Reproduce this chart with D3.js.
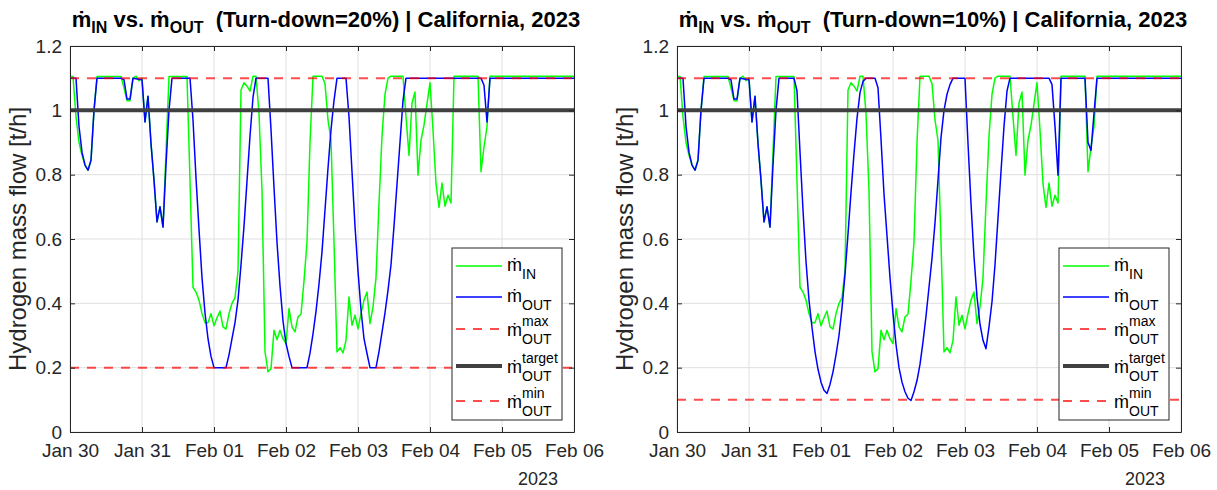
<!DOCTYPE html>
<html>
<head>
<meta charset="utf-8">
<script src="https://cdnjs.cloudflare.com/ajax/libs/d3/7.8.5/d3.min.js"></script>
<style>
  body { margin: 0; background: #fff; }
  svg { font-family: "Liberation Sans", Arial, "DejaVu Sans", sans-serif; }
</style>
</head>
<body>
<svg width="1217" height="490"></svg>
<script>
// hours after Jan 30 2023 00:00, value in t/h
const greenIn = [[0,1.105],[1,1.105],[2,0.98],[3,0.9],[4,0.86],[5,0.83],[6,0.814],[7,0.845],[8,1.0],[9,1.105],
  [17,1.105],[18,1.07],[19,1.03],[20,1.03],[21,1.1],[22,1.106],[23,1.092],[24,1.1],
  [25,0.964],[26,1.044],[27,0.897],[28,0.783],[29,0.653],[30,0.70],[31,0.637],[32,0.87],[33,1.105],
  [39,1.105],[40,0.78],[41,0.45],[42,0.435],[43,0.41],[44,0.368],[45,0.34],[46,0.34],[47,0.368],[48,0.33],
  [49,0.355],[50,0.376],[51,0.327],[52,0.32],[53,0.368],[54,0.40],[55,0.418],[56,0.5],[57,1.063],[58,1.086],
  [59,1.075],[60,1.06],[61,1.106],[62,1.106],[63,0.99],[64,0.75],[65,0.25],[66,0.187],[67,0.197],[68,0.316],
  [69,0.287],[70,0.316],[71,0.29],[72,0.275],[73,0.384],[74,0.327],[75,0.311],[76,0.358],[77,0.366],[78,0.47],
  [79,0.59],[80,0.9],[81,1.106],[84,1.106],[85,1.083],[86,0.97],[87,0.907],[88,0.59],[89,0.249],[90,0.262],
  [91,0.246],[92,0.285],[93,0.42],[94,0.332],[95,0.363],[96,0.321],[97,0.368],[98,0.41],[99,0.435],[100,0.337],
  [101,0.389],[102,0.48],[103,0.71],[104,0.92],[105,1.05],[106,1.1],[107,1.106],[111,1.106],[112,0.98],[113,0.86],
  [114,1.023],[115,1.057],[116,0.798],[117,0.907],[118,0.954],[119,1.02],[120,1.086],[121,0.938],[122,0.772],
  [123,0.698],[124,0.774],[125,0.702],[126,0.736],[127,0.712],[128,1.106],[136,1.106],[137,0.809],[138,0.886],
  [139,0.949],[140,1.106],[168,1.106]];

const blueCommon = [[0,1.1],[2,1.1],[3,0.95],[4,0.87],[5,0.83],[6,0.814],[7,0.845],[8,1.0],[9,1.1],[17,1.1],
  [18,1.095],[19,1.035],[20,1.035],[21,1.1],[24,1.095],[25,0.964],[26,1.044],[27,0.897],[28,0.783],[29,0.653],
  [30,0.70],[31,0.637],[32,0.83],[33,1.0],[34,1.1],[39,1.1]];

const blueTail20 = [[40,1.1],[41,0.97],[42,0.79],[43,0.63],[44,0.48],[45,0.37],[46,0.29],[47,0.235],[48,0.2],
  [52,0.2],[53,0.24],[54,0.29],[55,0.34],[56,0.41],[57,0.52],[58,0.64],[59,0.78],[60,0.92],[61,1.04],[62,1.1],
  [66,1.1],[67,0.94],[68,0.76],[69,0.59],[70,0.455],[71,0.345],[72,0.275],[73,0.235],[74,0.2],[79,0.2],
  [80,0.245],[81,0.305],[82,0.375],[83,0.46],[84,0.56],[85,0.69],[86,0.82],[87,0.94],[88,1.03],[89,1.1],
  [92,1.1],[93,0.98],[94,0.81],[95,0.64],[96,0.5],[97,0.38],[98,0.29],[99,0.244],[100,0.2],[102,0.2],
  [103,0.25],[104,0.31],[105,0.37],[106,0.44],[107,0.52],[108,0.64],[109,0.77],[110,0.9],[111,1.03],[112,1.1],
  [137,1.1],[138,1.078],[139,0.964],[140,1.1],[168,1.1]];

const blueTail10 = [[40,1.06],[41,0.87],[42,0.69],[43,0.53],[44,0.41],[45,0.325],[46,0.25],[47,0.195],[48,0.155],
  [49,0.13],[50,0.12],[51,0.148],[52,0.187],[53,0.24],[54,0.30],[55,0.385],[56,0.49],[57,0.615],[58,0.745],
  [59,0.865],[60,0.975],[61,1.055],[62,1.09],[63,1.1],[66,1.1],[67,1.07],[68,0.91],[69,0.74],[70,0.61],[71,0.48],
  [72,0.368],[73,0.272],[74,0.2],[75,0.155],[76,0.125],[77,0.105],[78,0.098],[79,0.125],[80,0.16],[81,0.21],
  [82,0.28],[83,0.36],[84,0.45],[85,0.54],[86,0.65],[87,0.783],[88,0.915],[89,1.0],[90,1.05],[91,1.08],[92,1.1],
  [96,1.1],[97,0.897],[98,0.71],[99,0.545],[100,0.42],[101,0.335],[102,0.285],[103,0.259],[104,0.327],[105,0.405],
  [106,0.52],[107,0.665],[108,0.81],[109,0.95],[110,1.06],[111,1.1],[124,1.1],[125,1.08],[126,0.95],[127,0.798],
  [128,1.1],[136,1.1],[137,0.9],[138,0.875],[139,0.99],[140,1.1],[168,1.1]];

const maxOut = 1.1, targetOut = 1.0;
const yTicks = [0, 0.2, 0.4, 0.6, 0.8, 1, 1.2];
const panels = [
  { left: 70, blue: blueCommon.concat(blueTail20), minOut: 0.2, turndown: "20%" },
  { left: 677, blue: blueCommon.concat(blueTail10), minOut: 0.1, turndown: "10%" }
];

const t0 = new Date(2023, 0, 30), t1 = new Date(2023, 1, 6);
const toDate = h => d3.timeHour.offset(t0, h);
const M = "\u1E41";
const axisColor = "#262626";
const plotTop = 46, plotBottom = 432, plotWidth = 504;

const svg = d3.select("svg");

panels.forEach((p, pi) => drawPanel(p, pi));

function drawPanel(p, pi) {
  const x = d3.scaleTime().domain([t0, t1]).range([p.left, p.left + plotWidth]);
  const y = d3.scaleLinear().domain([0, 1.2]).range([plotBottom, plotTop]);
  const g = svg.append("g");
  const days = d3.timeDay.range(t0, d3.timeDay.offset(t1, 1));

  // grid
  g.append("g").selectAll("line").data(days).join("line")
    .attr("x1", d => x(d)).attr("x2", d => x(d)).attr("y1", plotTop).attr("y2", plotBottom)
    .attr("stroke", "#dfdfdf");
  g.append("g").selectAll("line").data(yTicks).join("line")
    .attr("x1", p.left).attr("x2", p.left + plotWidth).attr("y1", d => y(d)).attr("y2", d => y(d))
    .attr("stroke", "#dfdfdf");

  // series
  const clipId = "clip" + pi;
  g.append("clipPath").attr("id", clipId).append("rect")
    .attr("x", p.left).attr("y", plotTop).attr("width", plotWidth).attr("height", plotBottom - plotTop);
  const plot = g.append("g").attr("clip-path", `url(#${clipId})`);
  const line = d3.line().x(d => x(toDate(d[0]))).y(d => y(d[1]));

  plot.append("path").datum(greenIn).attr("d", line)
    .attr("fill", "none").attr("stroke", "#00ff00").attr("stroke-width", 1.5).attr("stroke-linejoin", "round");
  plot.append("path").datum(p.blue).attr("d", line)
    .attr("fill", "none").attr("stroke", "#0000ff").attr("stroke-width", 1.5).attr("stroke-linejoin", "round");

  const hline = (v, color, w, dash, op) => plot.append("line")
    .attr("x1", p.left).attr("x2", p.left + plotWidth).attr("y1", y(v)).attr("y2", y(v))
    .attr("stroke", color).attr("stroke-width", w).attr("stroke-dasharray", dash).attr("stroke-opacity", op);
  hline(maxOut, "#ff0000", 2, "9,8", 0.7);
  hline(targetOut, "#404040", 4, null, 1);
  hline(p.minOut, "#ff0000", 2, "9,8", 0.7);

  // axes (MATLAB style box with inward ticks)
  const styleAxis = sel => {
    sel.select(".domain").attr("stroke", axisColor);
    sel.selectAll(".tick line").attr("stroke", axisColor);
    sel.selectAll(".tick text").attr("fill", axisColor).attr("font-size", 19)
      .attr("font-family", "'Liberation Sans', Arial, sans-serif");
  };
  g.append("g").attr("transform", `translate(0,${plotBottom})`)
    .call(d3.axisBottom(x).ticks(d3.timeDay.every(1)).tickFormat(d3.timeFormat("%b %d")).tickSize(-5).tickSizeOuter(0).tickPadding(12))
    .call(styleAxis);
  g.append("g").attr("transform", `translate(0,${plotTop})`)
    .call(d3.axisTop(x).ticks(d3.timeDay.every(1)).tickFormat("").tickSize(-5).tickSizeOuter(0))
    .call(styleAxis);
  g.append("g").attr("transform", `translate(${p.left},0)`)
    .call(d3.axisLeft(y).tickValues(yTicks).tickFormat(d3.format("~g")).tickSize(-5).tickSizeOuter(0).tickPadding(8))
    .call(styleAxis);
  g.append("g").attr("transform", `translate(${p.left + plotWidth},0)`)
    .call(d3.axisRight(y).tickValues(yTicks).tickFormat("").tickSize(-5).tickSizeOuter(0))
    .call(styleAxis);
  g.selectAll(".domain").attr("fill", "none");

  g.append("text").attr("x", p.left + 468).attr("y", 485).attr("text-anchor", "middle")
    .attr("font-size", 18).attr("fill", axisColor).text("2023");

  // y label
  g.append("text").attr("transform", `translate(${p.left - 44},${(plotTop + plotBottom) / 2}) rotate(-90)`)
    .attr("text-anchor", "middle").attr("font-size", 24).attr("fill", axisColor)
    .text("Hydrogen mass flow [t/h]");

  // title
  const title = g.append("text").attr("x", p.left + 256).attr("y", 27).attr("text-anchor", "middle")
    .attr("font-size", 22).attr("font-weight", "bold").attr("fill", "#000");
  title.append("tspan").text(M);
  title.append("tspan").attr("font-size", 16).attr("dy", 6).text("IN");
  title.append("tspan").attr("dy", -6).text(" vs. " + M);
  title.append("tspan").attr("font-size", 16).attr("dy", 6).text("OUT");
  title.append("tspan").attr("dy", -6).text("\u00A0\u00A0(Turn-down=" + p.turndown + ") | California, 2023");

  // legend
  const lx = p.left + 382, ly = 248;
  const lg = g.append("g");
  lg.append("rect").attr("x", lx).attr("y", ly).attr("width", 110).attr("height", 172)
    .attr("fill", "#fff").attr("stroke", axisColor).attr("stroke-width", 1);
  const entries = [
    { sub: "IN", sup: null, color: "#00ff00", w: 1.5, dash: null, op: 1, cy: 18 },
    { sub: "OUT", sup: null, color: "#0000ff", w: 1.5, dash: null, op: 1, cy: 49 },
    { sub: "OUT", sup: "max", color: "#ff0000", w: 2, dash: "9,8", op: 0.7, cy: 81 },
    { sub: "OUT", sup: "target", color: "#404040", w: 4, dash: null, op: 1, cy: 118 },
    { sub: "OUT", sup: "min", color: "#ff0000", w: 2, dash: "9,8", op: 0.7, cy: 153 }
  ];
  entries.forEach(e => {
    const cy = ly + e.cy;
    lg.append("line").attr("x1", lx + 4).attr("x2", lx + 50).attr("y1", cy).attr("y2", cy)
      .attr("stroke", e.color).attr("stroke-width", e.w).attr("stroke-dasharray", e.dash).attr("stroke-opacity", e.op);
    const base = e.sup ? cy + 7 : cy + 5;
    lg.append("text").attr("x", lx + 55).attr("y", base).attr("font-size", 18).attr("fill", "#000").text(M);
    lg.append("text").attr("x", lx + 70).attr("y", base + 8).attr("font-size", 14).attr("fill", "#000").text(e.sub);
    if (e.sup) lg.append("text").attr("x", lx + 70).attr("y", base - 10).attr("font-size", 14).attr("fill", "#000").text(e.sup);
  });
}
</script>
</body>
</html>
